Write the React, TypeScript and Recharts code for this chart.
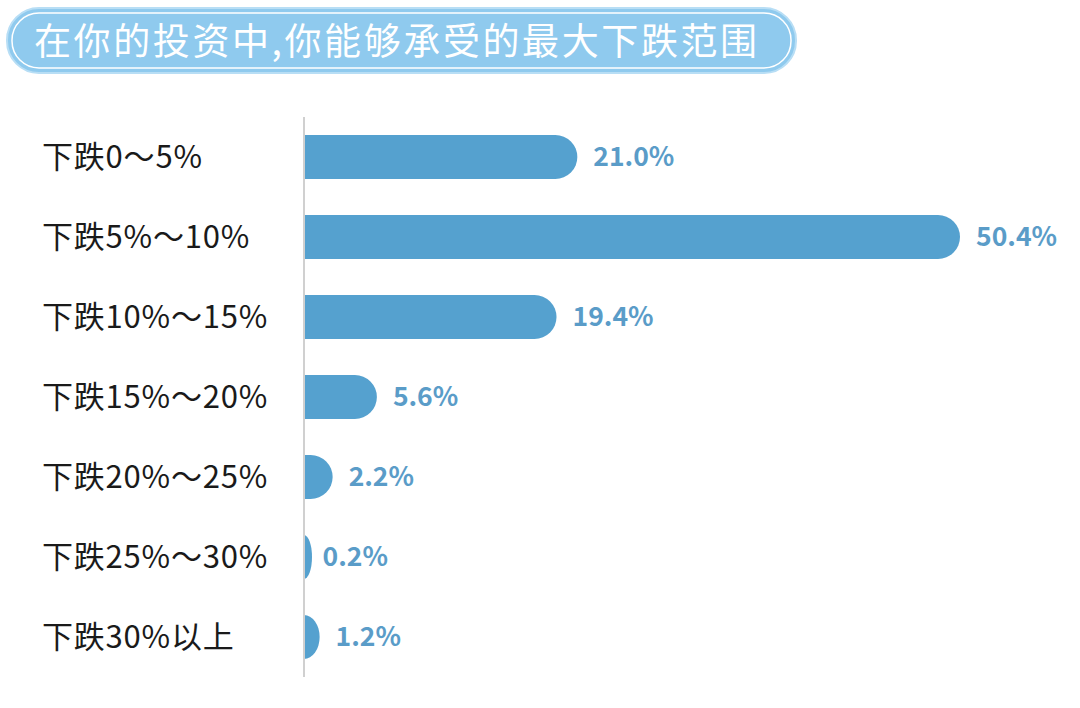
import React from 'react';
import { BarChart, Bar, XAxis, YAxis, LabelList } from 'recharts';

const categories = ['下跌0～5%', '下跌5%～10%', '下跌10%～15%', '下跌15%～20%', '下跌20%～25%', '下跌25%～30%', '下跌30%以上'];
const values = [21.0, 50.4, 19.4, 5.6, 2.2, 0.2, 1.2];
const title = '在你的投资中,你能够承受的最大下跌范围';

const data = categories.map((name, i) => ({ name, value: values[i] }));

const FONT = '"Noto Sans CJK SC", "Noto Sans", sans-serif';

const RoundBar = (props: any) => {
  const { x, y, width, height, fill } = props;
  if (width == null || height == null) return null;
  const ry = height / 2;
  const rx = Math.min(ry, Math.max(width, 8));
  const flat = Math.max(width - rx, 0);
  const d = `M${x},${y} L${x + flat},${y} A${rx},${ry} 0 0 1 ${x + flat},${y + height} L${x},${y + height} Z`;
  return <path d={d} fill={fill} />;
};

const CatTick = (props: any) => {
  const { y, payload } = props;
  return (
    <text x={42} y={y} dy={11} textAnchor="start" fontSize={31} letterSpacing={0.8} fill="#1a1a1a" fontFamily={FONT}>
      {payload.value}
    </text>
  );
};

export default function App() {
  return (
    <div style={{ position: 'fixed', left: 0, top: 0, width: 1080, height: 708, background: '#fff', overflow: 'hidden' }}>
      <svg width={1080} height={80} style={{ position: 'absolute', left: 0, top: 0 }}>
        <rect x={7} y={8} width={789} height={65} rx={32} ry={32} fill="#8FCAEE" stroke="#B8DEF5" strokeWidth={2} />
        <rect x={12} y={13} width={779} height={55} rx={27} ry={27} fill="none" stroke="#ffffff" strokeWidth={1.5} />
        <text x={34} y={55} fontSize={37} letterSpacing={2.6} fill="#ffffff" fontFamily={FONT}>{title}</text>
      </svg>
      <div style={{ position: 'absolute', left: 0, top: 0 }}>
        <BarChart
          width={1080}
          height={708}
          data={data}
          layout="vertical"
          margin={{ top: 117, right: 120, bottom: 31, left: 0 }}
        >
          <XAxis type="number" hide domain={[0, 'dataMax']} />
          <YAxis
            type="category"
            dataKey="name"
            width={304}
            axisLine={{ stroke: '#d0d0d0', strokeWidth: 2 }}
            tickLine={false}
            tick={<CatTick />}
            interval={0}
          />
          <Bar dataKey="value" fill="#55A1CF" barSize={44} isAnimationActive={false} shape={<RoundBar />}>
            <LabelList
              dataKey="value"
              position="right"
              offset={16}
              formatter={(v: any) => `${Number(v).toFixed(1)}%`}
              style={{ fill: '#5A9CC8', fontSize: 26.5, fontWeight: 700, fontFamily: FONT }}
            />
          </Bar>
        </BarChart>
      </div>
    </div>
  );
}
